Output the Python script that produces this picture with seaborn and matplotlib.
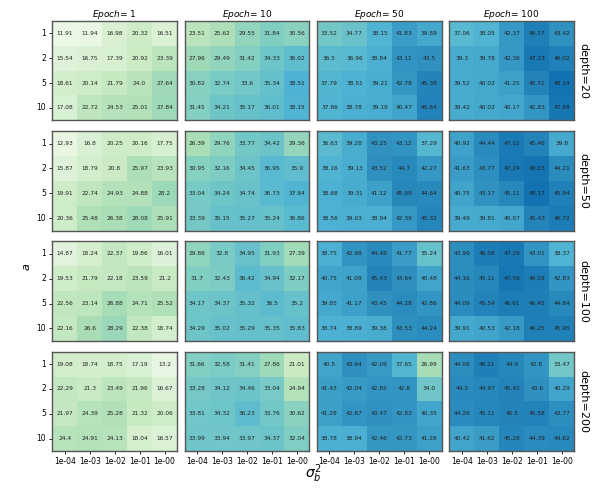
import numpy as np
import pandas as pd
import matplotlib
matplotlib.use("Agg")
import matplotlib.pyplot as plt
import seaborn as sns

epochs = [1, 10, 50, 100]
depths = [20, 50, 100, 200]
a_values = [1, 2, 5, 10]
sigma_labels = ["1e-04", "1e-03", "1e-02", "1e-01", "1e-00"]

# accuracy[epoch][depth] -> rows a, cols sigma_b^2
epoch1_d20 = [[11.91, 11.94, 16.98, 20.32, 16.51], [15.54, 16.75, 17.39, 20.92, 23.39],
              [18.61, 20.14, 21.79, 24.0, 27.64], [17.08, 22.72, 24.53, 25.01, 27.84]]
epoch1_d50 = [[12.93, 16.8, 20.25, 20.16, 17.75], [15.87, 18.79, 20.8, 25.97, 23.93],
              [19.91, 22.74, 24.93, 24.88, 28.2], [20.36, 25.48, 26.38, 28.08, 25.91]]
epoch1_d100 = [[14.87, 18.24, 22.37, 19.86, 16.01], [19.53, 21.79, 22.18, 23.59, 21.2],
               [22.56, 23.14, 26.88, 24.71, 25.52], [22.16, 26.6, 28.29, 22.38, 18.74]]
epoch1_d200 = [[19.08, 18.74, 18.75, 17.19, 13.2], [22.29, 21.3, 23.49, 21.96, 16.67],
               [21.97, 24.39, 25.28, 21.32, 20.06], [24.4, 24.91, 24.13, 18.04, 16.57]]

epoch10_d20 = [[23.51, 25.62, 29.55, 31.84, 30.56], [27.96, 29.49, 31.42, 34.33, 36.02],
               [30.82, 32.74, 33.6, 35.34, 38.51], [31.45, 34.21, 35.17, 36.01, 38.15]]
epoch10_d50 = [[26.39, 29.76, 33.77, 34.42, 29.36], [30.95, 32.16, 34.45, 36.95, 35.9],
               [33.04, 34.24, 34.74, 36.73, 37.84], [33.39, 35.15, 35.27, 35.24, 36.86]]
epoch10_d100 = [[29.86, 32.8, 34.95, 31.93, 27.39], [31.7, 32.43, 36.42, 34.94, 32.17],
                [34.17, 34.37, 35.32, 36.5, 35.2], [34.29, 35.02, 35.29, 35.35, 35.83]]
epoch10_d200 = [[31.66, 32.58, 31.41, 27.86, 21.01], [33.28, 34.12, 34.46, 33.04, 24.94],
                [33.81, 34.32, 36.23, 33.76, 30.62], [33.99, 33.94, 33.97, 34.37, 32.04]]

epoch50_d20 = [[33.52, 34.77, 38.15, 41.83, 39.89], [36.5, 36.96, 38.84, 43.11, 43.5],
               [37.79, 38.51, 39.21, 42.78, 45.38], [37.86, 38.78, 39.19, 40.47, 45.64]]
epoch50_d50 = [[36.63, 39.28, 43.25, 43.12, 37.29], [38.16, 39.13, 43.52, 44.7, 42.27],
               [38.68, 39.31, 41.12, 45.09, 44.64], [38.56, 39.03, 38.94, 42.39, 45.32]]
epoch50_d100 = [[38.75, 42.98, 44.48, 41.77, 35.24], [40.75, 41.09, 45.43, 43.64, 40.48],
                [39.85, 41.17, 43.45, 44.28, 42.86], [38.74, 38.89, 39.38, 43.53, 44.24]]
epoch50_d200 = [[40.5, 43.64, 42.09, 37.65, 26.99], [41.43, 42.04, 42.85, 42.8, 34.0],
                [41.29, 42.87, 43.47, 42.83, 40.35], [38.78, 38.94, 42.46, 42.73, 41.28]]

epoch100_d20 = [[37.06, 38.05, 42.37, 46.17, 43.42], [39.3, 39.78, 42.36, 47.23, 46.02],
                [39.52, 40.02, 41.25, 45.51, 48.14], [39.42, 40.02, 40.17, 42.83, 47.68]]
epoch100_d50 = [[40.92, 44.44, 47.12, 45.46, 39.8], [41.63, 43.77, 47.24, 48.03, 44.21],
                [40.75, 43.17, 45.11, 48.17, 45.94], [39.49, 39.81, 40.07, 45.43, 46.72]]
epoch100_d100 = [[43.99, 46.58, 47.29, 43.01, 38.37], [44.16, 45.11, 47.56, 46.59, 42.83],
                 [44.09, 45.54, 46.61, 46.45, 44.64], [39.91, 40.53, 42.18, 46.25, 45.95]]
epoch100_d200 = [[44.06, 46.11, 44.9, 42.8, 33.47], [44.5, 44.97, 45.42, 43.6, 40.29],
                 [44.26, 45.11, 45.5, 45.58, 43.77], [40.42, 41.62, 45.28, 44.39, 44.62]]

grid = {
    (1, 20): epoch1_d20, (1, 50): epoch1_d50, (1, 100): epoch1_d100, (1, 200): epoch1_d200,
    (10, 20): epoch10_d20, (10, 50): epoch10_d50, (10, 100): epoch10_d100, (10, 200): epoch10_d200,
    (50, 20): epoch50_d20, (50, 50): epoch50_d50, (50, 100): epoch50_d100, (50, 200): epoch50_d200,
    (100, 20): epoch100_d20, (100, 50): epoch100_d50, (100, 100): epoch100_d100, (100, 200): epoch100_d200,
}

fig, axes = plt.subplots(4, 4, figsize=(6, 5), dpi=100)
fig.subplots_adjust(left=0.087, right=0.957, top=0.958, bottom=0.098, wspace=0.06, hspace=0.11)

for i, depth in enumerate(depths):
    for j, epoch in enumerate(epochs):
        ax = axes[i, j]
        vals = np.array(grid[(epoch, depth)])
        df = pd.DataFrame(vals, index=a_values, columns=sigma_labels)
        labels = np.array([[str(v) for v in row] for row in grid[(epoch, depth)]])
        sns.heatmap(df, ax=ax, cmap="GnBu", vmin=9, vmax=56, cbar=False,
                    annot=labels, fmt="", annot_kws={"size": 4.2, "color": "#222222"})
        for s in ax.spines.values():
            s.set_visible(True)
            s.set_color("#555555")
            s.set_linewidth(1.0)
        ax.set_xlabel("")
        ax.set_ylabel("")
        if j == 0:
            ax.set_yticklabels([str(a) for a in a_values], rotation=0, fontsize=5.5)
            ax.tick_params(axis="y", length=2.5, width=0.6, pad=2)
        else:
            ax.set_yticks([])
        if i == 3:
            ax.set_xticklabels(sigma_labels, rotation=0, fontsize=5.5)
            ax.tick_params(axis="x", length=2.5, width=0.6, pad=2)
        else:
            ax.set_xticks([])
        if i == 0:
            ax.set_title(f"$Epoch$= {epoch}", fontsize=6.5, pad=3)
        if j == 3:
            ax.text(1.03, 0.5, f"depth={depth}", transform=ax.transAxes,
                    rotation=270, va="center", ha="left", fontsize=8)

fig.text(0.045, 0.467, "$a$", rotation=90, va="center", ha="center", fontsize=8)
fig.text(0.522, 0.052, r"$\sigma_b^2$", va="center", ha="center", fontsize=10)

plt.savefig("out.png", dpi=100)
plt.close()
